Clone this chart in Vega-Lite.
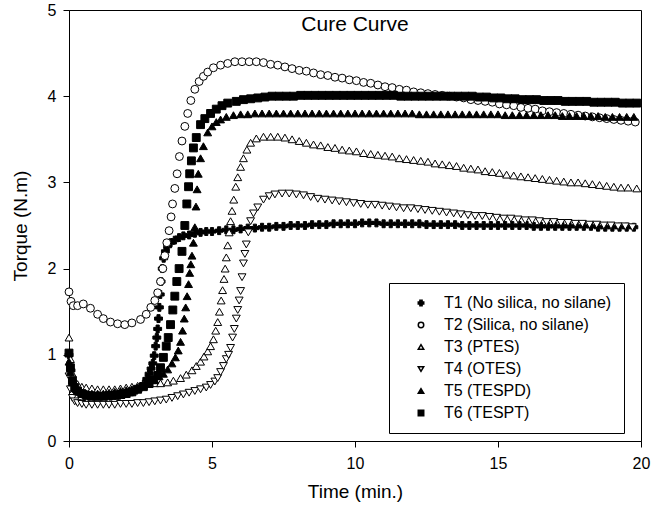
{
"$schema":"https://vega.github.io/schema/vega-lite/v6.json",
"autosize":"none",
"padding":{"left":69,"top":10,"right":22,"bottom":72},
"width":572,"height":431,
"config":{"font":"Liberation Sans","view":{"stroke":"black","strokeWidth":1},
"axis":{"grid":false,"domainColor":"black","tickColor":"black","tickSize":6,"labelColor":"black","labelFontSize":16,"titleFontSize":19,"titleFontWeight":"normal","titleColor":"black","labelFont":"Liberation Sans","titleFont":"Liberation Sans"}},
"title":{"text":"Cure Curve","fontSize":21,"fontWeight":"normal","color":"black","font":"Liberation Sans","offset":-33,"anchor":"middle"},
"datasets":{
"names":[{"s":"T1","name":"T1 (No silica, no silane)"},{"s":"T2","name":"T2 (Silica, no silane)"},{"s":"T3","name":"T3 (PTES)"},{"s":"T4","name":"T4 (OTES)"},{"s":"T5","name":"T5 (TESPD)"},{"s":"T6","name":"T6 (TESPT)"}],
"curves":[
{"s":"T1","t":0,"v":1.0},{"s":"T1","t":0.07,"v":0.82},{"s":"T1","t":0.15,"v":0.66},{"s":"T1","t":0.25,"v":0.58},{"s":"T1","t":0.4,"v":0.55},{"s":"T1","t":0.55,"v":0.53},{"s":"T1","t":0.7,"v":0.52},{"s":"T1","t":0.85,"v":0.52},{"s":"T1","t":1.0,"v":0.52},{"s":"T1","t":1.15,"v":0.52},{"s":"T1","t":1.3,"v":0.52},{"s":"T1","t":1.45,"v":0.52},{"s":"T1","t":1.6,"v":0.53},{"s":"T1","t":1.75,"v":0.53},{"s":"T1","t":1.9,"v":0.54},{"s":"T1","t":2.05,"v":0.55},{"s":"T1","t":2.2,"v":0.57},{"s":"T1","t":2.35,"v":0.59},{"s":"T1","t":2.5,"v":0.62},{"s":"T1","t":2.62,"v":0.66},{"s":"T1","t":2.72,"v":0.72},{"s":"T1","t":2.8,"v":0.78},{"s":"T1","t":2.87,"v":0.84},{"s":"T1","t":2.93,"v":0.9},{"s":"T1","t":2.98,"v":0.99},{"s":"T1","t":3.03,"v":1.1},{"s":"T1","t":3.07,"v":1.2},{"s":"T1","t":3.1,"v":1.3},{"s":"T1","t":3.13,"v":1.42},{"s":"T1","t":3.16,"v":1.55},{"s":"T1","t":3.19,"v":1.7},{"s":"T1","t":3.22,"v":1.85},{"s":"T1","t":3.26,"v":2.0},{"s":"T1","t":3.31,"v":2.12},{"s":"T1","t":3.37,"v":2.2},{"s":"T1","t":3.45,"v":2.26},{"s":"T1","t":3.55,"v":2.3},{"s":"T1","t":3.7,"v":2.33},{"s":"T1","t":3.85,"v":2.36},{"s":"T1","t":4.0,"v":2.38},{"s":"T1","t":4.2,"v":2.39},{"s":"T1","t":4.4,"v":2.41},{"s":"T1","t":4.6,"v":2.42},{"s":"T1","t":4.8,"v":2.43},{"s":"T1","t":5.0,"v":2.43},{"s":"T1","t":5.25,"v":2.44},{"s":"T1","t":5.5,"v":2.45},{"s":"T1","t":5.75,"v":2.45},{"s":"T1","t":6.0,"v":2.46},{"s":"T1","t":6.25,"v":2.47},{"s":"T1","t":6.5,"v":2.47},{"s":"T1","t":6.75,"v":2.48},{"s":"T1","t":7.0,"v":2.48},{"s":"T1","t":7.25,"v":2.49},{"s":"T1","t":7.5,"v":2.49},{"s":"T1","t":7.75,"v":2.5},{"s":"T1","t":8.0,"v":2.5},{"s":"T1","t":8.25,"v":2.5},{"s":"T1","t":8.5,"v":2.51},{"s":"T1","t":8.75,"v":2.51},{"s":"T1","t":9.0,"v":2.51},{"s":"T1","t":9.25,"v":2.52},{"s":"T1","t":9.5,"v":2.52},{"s":"T1","t":9.75,"v":2.52},{"s":"T1","t":10.0,"v":2.52},{"s":"T1","t":10.25,"v":2.53},{"s":"T1","t":10.5,"v":2.53},{"s":"T1","t":10.75,"v":2.53},{"s":"T1","t":11.0,"v":2.52},{"s":"T1","t":11.25,"v":2.52},{"s":"T1","t":11.5,"v":2.52},{"s":"T1","t":11.75,"v":2.52},{"s":"T1","t":12.0,"v":2.52},{"s":"T1","t":12.25,"v":2.52},{"s":"T1","t":12.5,"v":2.51},{"s":"T1","t":12.75,"v":2.51},{"s":"T1","t":13.0,"v":2.51},{"s":"T1","t":13.25,"v":2.51},{"s":"T1","t":13.5,"v":2.51},{"s":"T1","t":13.75,"v":2.5},{"s":"T1","t":14.0,"v":2.5},{"s":"T1","t":14.25,"v":2.5},{"s":"T1","t":14.5,"v":2.5},{"s":"T1","t":14.75,"v":2.5},{"s":"T1","t":15.0,"v":2.5},{"s":"T1","t":15.25,"v":2.5},{"s":"T1","t":15.5,"v":2.5},{"s":"T1","t":15.75,"v":2.5},{"s":"T1","t":16.0,"v":2.5},{"s":"T1","t":16.25,"v":2.49},{"s":"T1","t":16.5,"v":2.49},{"s":"T1","t":16.75,"v":2.49},{"s":"T1","t":17.0,"v":2.49},{"s":"T1","t":17.25,"v":2.49},{"s":"T1","t":17.5,"v":2.49},{"s":"T1","t":17.75,"v":2.49},{"s":"T1","t":18.0,"v":2.49},{"s":"T1","t":18.25,"v":2.49},{"s":"T1","t":18.5,"v":2.48},{"s":"T1","t":18.75,"v":2.48},{"s":"T1","t":19.0,"v":2.48},{"s":"T1","t":19.25,"v":2.48},{"s":"T1","t":19.5,"v":2.48},{"s":"T1","t":19.75,"v":2.48},
{"s":"T2","t":0,"v":1.73},{"s":"T2","t":0.07,"v":1.62},{"s":"T2","t":0.15,"v":1.57},{"s":"T2","t":0.3,"v":1.57},{"s":"T2","t":0.5,"v":1.59},{"s":"T2","t":0.75,"v":1.54},{"s":"T2","t":1.0,"v":1.47},{"s":"T2","t":1.2,"v":1.42},{"s":"T2","t":1.45,"v":1.38},{"s":"T2","t":1.7,"v":1.36},{"s":"T2","t":1.95,"v":1.35},{"s":"T2","t":2.2,"v":1.37},{"s":"T2","t":2.5,"v":1.41},{"s":"T2","t":2.7,"v":1.47},{"s":"T2","t":2.86,"v":1.55},{"s":"T2","t":3.0,"v":1.63},{"s":"T2","t":3.1,"v":1.72},{"s":"T2","t":3.2,"v":1.85},{"s":"T2","t":3.28,"v":2.0},{"s":"T2","t":3.35,"v":2.15},{"s":"T2","t":3.42,"v":2.3},{"s":"T2","t":3.5,"v":2.44},{"s":"T2","t":3.57,"v":2.6},{"s":"T2","t":3.62,"v":2.75},{"s":"T2","t":3.7,"v":2.93},{"s":"T2","t":3.78,"v":3.1},{"s":"T2","t":3.86,"v":3.3},{"s":"T2","t":3.95,"v":3.48},{"s":"T2","t":4.05,"v":3.65},{"s":"T2","t":4.15,"v":3.8},{"s":"T2","t":4.26,"v":3.95},{"s":"T2","t":4.4,"v":4.08},{"s":"T2","t":4.55,"v":4.17},{"s":"T2","t":4.7,"v":4.23},{"s":"T2","t":4.85,"v":4.28},{"s":"T2","t":5.05,"v":4.33},{"s":"T2","t":5.3,"v":4.36},{"s":"T2","t":5.55,"v":4.38},{"s":"T2","t":5.8,"v":4.4},{"s":"T2","t":6.05,"v":4.4},{"s":"T2","t":6.3,"v":4.4},{"s":"T2","t":6.55,"v":4.4},{"s":"T2","t":6.8,"v":4.39},{"s":"T2","t":7.05,"v":4.37},{"s":"T2","t":7.3,"v":4.36},{"s":"T2","t":7.55,"v":4.34},{"s":"T2","t":7.8,"v":4.32},{"s":"T2","t":8.05,"v":4.3},{"s":"T2","t":8.3,"v":4.29},{"s":"T2","t":8.55,"v":4.27},{"s":"T2","t":8.8,"v":4.25},{"s":"T2","t":9.05,"v":4.24},{"s":"T2","t":9.3,"v":4.22},{"s":"T2","t":9.55,"v":4.21},{"s":"T2","t":9.8,"v":4.19},{"s":"T2","t":10.05,"v":4.18},{"s":"T2","t":10.3,"v":4.16},{"s":"T2","t":10.55,"v":4.15},{"s":"T2","t":10.8,"v":4.13},{"s":"T2","t":11.05,"v":4.11},{"s":"T2","t":11.3,"v":4.1},{"s":"T2","t":11.55,"v":4.08},{"s":"T2","t":11.8,"v":4.07},{"s":"T2","t":12.05,"v":4.05},{"s":"T2","t":12.3,"v":4.04},{"s":"T2","t":12.55,"v":4.03},{"s":"T2","t":12.8,"v":4.02},{"s":"T2","t":13.05,"v":4.01},{"s":"T2","t":13.3,"v":4.0},{"s":"T2","t":13.55,"v":3.99},{"s":"T2","t":13.8,"v":3.98},{"s":"T2","t":14.05,"v":3.96},{"s":"T2","t":14.3,"v":3.95},{"s":"T2","t":14.55,"v":3.94},{"s":"T2","t":14.8,"v":3.93},{"s":"T2","t":15.05,"v":3.91},{"s":"T2","t":15.3,"v":3.9},{"s":"T2","t":15.55,"v":3.89},{"s":"T2","t":15.8,"v":3.87},{"s":"T2","t":16.05,"v":3.86},{"s":"T2","t":16.3,"v":3.85},{"s":"T2","t":16.55,"v":3.83},{"s":"T2","t":16.8,"v":3.82},{"s":"T2","t":17.05,"v":3.81},{"s":"T2","t":17.3,"v":3.8},{"s":"T2","t":17.55,"v":3.79},{"s":"T2","t":17.8,"v":3.78},{"s":"T2","t":18.05,"v":3.77},{"s":"T2","t":18.3,"v":3.76},{"s":"T2","t":18.55,"v":3.75},{"s":"T2","t":18.8,"v":3.74},{"s":"T2","t":19.05,"v":3.73},{"s":"T2","t":19.3,"v":3.72},{"s":"T2","t":19.55,"v":3.71},{"s":"T2","t":19.8,"v":3.7},
{"s":"T3","t":0,"v":1.2},{"s":"T3","t":0.05,"v":0.95},{"s":"T3","t":0.12,"v":0.78},{"s":"T3","t":0.2,"v":0.7},{"s":"T3","t":0.3,"v":0.66},{"s":"T3","t":0.45,"v":0.63},{"s":"T3","t":0.6,"v":0.62},{"s":"T3","t":0.8,"v":0.61},{"s":"T3","t":1.0,"v":0.6},{"s":"T3","t":1.2,"v":0.6},{"s":"T3","t":1.4,"v":0.6},{"s":"T3","t":1.6,"v":0.6},{"s":"T3","t":1.8,"v":0.61},{"s":"T3","t":2.0,"v":0.62},{"s":"T3","t":2.2,"v":0.63},{"s":"T3","t":2.4,"v":0.64},{"s":"T3","t":2.6,"v":0.65},{"s":"T3","t":2.8,"v":0.66},{"s":"T3","t":3.0,"v":0.67},{"s":"T3","t":3.2,"v":0.67},{"s":"T3","t":3.45,"v":0.68},{"s":"T3","t":3.65,"v":0.7},{"s":"T3","t":3.9,"v":0.73},{"s":"T3","t":4.1,"v":0.77},{"s":"T3","t":4.3,"v":0.82},{"s":"T3","t":4.45,"v":0.87},{"s":"T3","t":4.6,"v":0.92},{"s":"T3","t":4.72,"v":0.98},{"s":"T3","t":4.85,"v":1.04},{"s":"T3","t":4.95,"v":1.1},{"s":"T3","t":5.05,"v":1.18},{"s":"T3","t":5.13,"v":1.28},{"s":"T3","t":5.2,"v":1.38},{"s":"T3","t":5.26,"v":1.5},{"s":"T3","t":5.32,"v":1.63},{"s":"T3","t":5.37,"v":1.75},{"s":"T3","t":5.42,"v":1.88},{"s":"T3","t":5.46,"v":2.0},{"s":"T3","t":5.5,"v":2.13},{"s":"T3","t":5.55,"v":2.27},{"s":"T3","t":5.6,"v":2.42},{"s":"T3","t":5.65,"v":2.55},{"s":"T3","t":5.7,"v":2.67},{"s":"T3","t":5.76,"v":2.8},{"s":"T3","t":5.83,"v":2.95},{"s":"T3","t":5.9,"v":3.06},{"s":"T3","t":6.0,"v":3.18},{"s":"T3","t":6.1,"v":3.28},{"s":"T3","t":6.22,"v":3.38},{"s":"T3","t":6.35,"v":3.46},{"s":"T3","t":6.55,"v":3.51},{"s":"T3","t":6.8,"v":3.53},{"s":"T3","t":7.05,"v":3.53},{"s":"T3","t":7.3,"v":3.53},{"s":"T3","t":7.55,"v":3.52},{"s":"T3","t":7.8,"v":3.5},{"s":"T3","t":8.05,"v":3.48},{"s":"T3","t":8.3,"v":3.46},{"s":"T3","t":8.55,"v":3.44},{"s":"T3","t":8.8,"v":3.43},{"s":"T3","t":9.05,"v":3.41},{"s":"T3","t":9.3,"v":3.4},{"s":"T3","t":9.55,"v":3.38},{"s":"T3","t":9.8,"v":3.37},{"s":"T3","t":10.05,"v":3.36},{"s":"T3","t":10.3,"v":3.34},{"s":"T3","t":10.55,"v":3.33},{"s":"T3","t":10.8,"v":3.32},{"s":"T3","t":11.05,"v":3.31},{"s":"T3","t":11.3,"v":3.3},{"s":"T3","t":11.55,"v":3.28},{"s":"T3","t":11.8,"v":3.27},{"s":"T3","t":12.05,"v":3.26},{"s":"T3","t":12.3,"v":3.25},{"s":"T3","t":12.55,"v":3.24},{"s":"T3","t":12.8,"v":3.22},{"s":"T3","t":13.05,"v":3.21},{"s":"T3","t":13.3,"v":3.2},{"s":"T3","t":13.55,"v":3.19},{"s":"T3","t":13.8,"v":3.17},{"s":"T3","t":14.05,"v":3.16},{"s":"T3","t":14.3,"v":3.15},{"s":"T3","t":14.55,"v":3.13},{"s":"T3","t":14.8,"v":3.12},{"s":"T3","t":15.05,"v":3.11},{"s":"T3","t":15.3,"v":3.09},{"s":"T3","t":15.55,"v":3.08},{"s":"T3","t":15.8,"v":3.07},{"s":"T3","t":16.05,"v":3.06},{"s":"T3","t":16.3,"v":3.05},{"s":"T3","t":16.55,"v":3.04},{"s":"T3","t":16.8,"v":3.03},{"s":"T3","t":17.05,"v":3.02},{"s":"T3","t":17.3,"v":3.01},{"s":"T3","t":17.55,"v":3.0},{"s":"T3","t":17.8,"v":3.0},{"s":"T3","t":18.05,"v":2.99},{"s":"T3","t":18.3,"v":2.98},{"s":"T3","t":18.55,"v":2.97},{"s":"T3","t":18.8,"v":2.96},{"s":"T3","t":19.05,"v":2.95},{"s":"T3","t":19.3,"v":2.94},{"s":"T3","t":19.55,"v":2.94},{"s":"T3","t":19.85,"v":2.93},
{"s":"T4","t":0,"v":0.75},{"s":"T4","t":0.05,"v":0.6},{"s":"T4","t":0.12,"v":0.5},{"s":"T4","t":0.2,"v":0.46},{"s":"T4","t":0.3,"v":0.44},{"s":"T4","t":0.45,"v":0.43},{"s":"T4","t":0.6,"v":0.42},{"s":"T4","t":0.8,"v":0.42},{"s":"T4","t":1.0,"v":0.42},{"s":"T4","t":1.2,"v":0.42},{"s":"T4","t":1.4,"v":0.42},{"s":"T4","t":1.6,"v":0.42},{"s":"T4","t":1.8,"v":0.43},{"s":"T4","t":2.0,"v":0.43},{"s":"T4","t":2.2,"v":0.43},{"s":"T4","t":2.4,"v":0.44},{"s":"T4","t":2.6,"v":0.44},{"s":"T4","t":2.8,"v":0.45},{"s":"T4","t":3.0,"v":0.46},{"s":"T4","t":3.2,"v":0.47},{"s":"T4","t":3.4,"v":0.48},{"s":"T4","t":3.6,"v":0.5},{"s":"T4","t":3.8,"v":0.52},{"s":"T4","t":4.0,"v":0.54},{"s":"T4","t":4.2,"v":0.56},{"s":"T4","t":4.4,"v":0.58},{"s":"T4","t":4.6,"v":0.6},{"s":"T4","t":4.8,"v":0.62},{"s":"T4","t":4.95,"v":0.65},{"s":"T4","t":5.1,"v":0.69},{"s":"T4","t":5.2,"v":0.73},{"s":"T4","t":5.3,"v":0.8},{"s":"T4","t":5.4,"v":0.87},{"s":"T4","t":5.5,"v":0.95},{"s":"T4","t":5.58,"v":1.0},{"s":"T4","t":5.65,"v":1.08},{"s":"T4","t":5.72,"v":1.2},{"s":"T4","t":5.78,"v":1.3},{"s":"T4","t":5.85,"v":1.42},{"s":"T4","t":5.9,"v":1.52},{"s":"T4","t":5.95,"v":1.63},{"s":"T4","t":6.0,"v":1.74},{"s":"T4","t":6.05,"v":1.9},{"s":"T4","t":6.1,"v":2.06},{"s":"T4","t":6.15,"v":2.17},{"s":"T4","t":6.2,"v":2.28},{"s":"T4","t":6.27,"v":2.42},{"s":"T4","t":6.35,"v":2.55},{"s":"T4","t":6.45,"v":2.64},{"s":"T4","t":6.6,"v":2.71},{"s":"T4","t":6.8,"v":2.8},{"s":"T4","t":7.0,"v":2.84},{"s":"T4","t":7.2,"v":2.86},{"s":"T4","t":7.45,"v":2.87},{"s":"T4","t":7.7,"v":2.87},{"s":"T4","t":7.95,"v":2.86},{"s":"T4","t":8.2,"v":2.85},{"s":"T4","t":8.45,"v":2.83},{"s":"T4","t":8.7,"v":2.81},{"s":"T4","t":8.95,"v":2.8},{"s":"T4","t":9.2,"v":2.79},{"s":"T4","t":9.45,"v":2.78},{"s":"T4","t":9.7,"v":2.77},{"s":"T4","t":9.95,"v":2.76},{"s":"T4","t":10.2,"v":2.75},{"s":"T4","t":10.45,"v":2.74},{"s":"T4","t":10.7,"v":2.74},{"s":"T4","t":10.95,"v":2.73},{"s":"T4","t":11.2,"v":2.72},{"s":"T4","t":11.45,"v":2.71},{"s":"T4","t":11.7,"v":2.7},{"s":"T4","t":11.95,"v":2.7},{"s":"T4","t":12.2,"v":2.69},{"s":"T4","t":12.45,"v":2.68},{"s":"T4","t":12.7,"v":2.67},{"s":"T4","t":12.95,"v":2.66},{"s":"T4","t":13.2,"v":2.65},{"s":"T4","t":13.45,"v":2.64},{"s":"T4","t":13.7,"v":2.63},{"s":"T4","t":13.95,"v":2.62},{"s":"T4","t":14.2,"v":2.61},{"s":"T4","t":14.45,"v":2.61},{"s":"T4","t":14.7,"v":2.6},{"s":"T4","t":14.95,"v":2.59},{"s":"T4","t":15.2,"v":2.58},{"s":"T4","t":15.45,"v":2.58},{"s":"T4","t":15.7,"v":2.57},{"s":"T4","t":15.95,"v":2.56},{"s":"T4","t":16.2,"v":2.56},{"s":"T4","t":16.45,"v":2.55},{"s":"T4","t":16.7,"v":2.54},{"s":"T4","t":16.95,"v":2.54},{"s":"T4","t":17.2,"v":2.53},{"s":"T4","t":17.45,"v":2.53},{"s":"T4","t":17.7,"v":2.52},{"s":"T4","t":17.95,"v":2.52},{"s":"T4","t":18.2,"v":2.51},{"s":"T4","t":18.45,"v":2.51},{"s":"T4","t":18.7,"v":2.5},{"s":"T4","t":18.95,"v":2.5},{"s":"T4","t":19.2,"v":2.49},{"s":"T4","t":19.45,"v":2.49},{"s":"T4","t":19.7,"v":2.48},
{"s":"T5","t":0,"v":0.92},{"s":"T5","t":0.05,"v":0.8},{"s":"T5","t":0.12,"v":0.68},{"s":"T5","t":0.2,"v":0.62},{"s":"T5","t":0.3,"v":0.58},{"s":"T5","t":0.45,"v":0.56},{"s":"T5","t":0.6,"v":0.55},{"s":"T5","t":0.8,"v":0.55},{"s":"T5","t":1.0,"v":0.55},{"s":"T5","t":1.2,"v":0.55},{"s":"T5","t":1.4,"v":0.56},{"s":"T5","t":1.6,"v":0.57},{"s":"T5","t":1.8,"v":0.58},{"s":"T5","t":2.0,"v":0.59},{"s":"T5","t":2.2,"v":0.6},{"s":"T5","t":2.4,"v":0.62},{"s":"T5","t":2.6,"v":0.64},{"s":"T5","t":2.8,"v":0.67},{"s":"T5","t":3.0,"v":0.71},{"s":"T5","t":3.15,"v":0.75},{"s":"T5","t":3.3,"v":0.78},{"s":"T5","t":3.45,"v":0.83},{"s":"T5","t":3.6,"v":0.9},{"s":"T5","t":3.72,"v":0.97},{"s":"T5","t":3.82,"v":1.05},{"s":"T5","t":3.9,"v":1.15},{"s":"T5","t":3.97,"v":1.28},{"s":"T5","t":4.03,"v":1.42},{"s":"T5","t":4.08,"v":1.55},{"s":"T5","t":4.13,"v":1.68},{"s":"T5","t":4.18,"v":1.82},{"s":"T5","t":4.22,"v":1.95},{"s":"T5","t":4.26,"v":2.05},{"s":"T5","t":4.3,"v":2.15},{"s":"T5","t":4.35,"v":2.3},{"s":"T5","t":4.4,"v":2.48},{"s":"T5","t":4.44,"v":2.72},{"s":"T5","t":4.48,"v":2.92},{"s":"T5","t":4.52,"v":3.1},{"s":"T5","t":4.6,"v":3.28},{"s":"T5","t":4.7,"v":3.42},{"s":"T5","t":4.85,"v":3.58},{"s":"T5","t":5.0,"v":3.65},{"s":"T5","t":5.15,"v":3.7},{"s":"T5","t":5.3,"v":3.73},{"s":"T5","t":5.5,"v":3.76},{"s":"T5","t":5.75,"v":3.78},{"s":"T5","t":6.0,"v":3.79},{"s":"T5","t":6.25,"v":3.79},{"s":"T5","t":6.5,"v":3.8},{"s":"T5","t":6.75,"v":3.8},{"s":"T5","t":7.0,"v":3.8},{"s":"T5","t":7.25,"v":3.8},{"s":"T5","t":7.5,"v":3.8},{"s":"T5","t":7.75,"v":3.8},{"s":"T5","t":8.0,"v":3.8},{"s":"T5","t":8.25,"v":3.8},{"s":"T5","t":8.5,"v":3.8},{"s":"T5","t":8.75,"v":3.8},{"s":"T5","t":9.0,"v":3.8},{"s":"T5","t":9.25,"v":3.8},{"s":"T5","t":9.5,"v":3.8},{"s":"T5","t":9.75,"v":3.8},{"s":"T5","t":10.0,"v":3.8},{"s":"T5","t":10.25,"v":3.8},{"s":"T5","t":10.5,"v":3.8},{"s":"T5","t":10.75,"v":3.8},{"s":"T5","t":11.0,"v":3.8},{"s":"T5","t":11.25,"v":3.8},{"s":"T5","t":11.5,"v":3.8},{"s":"T5","t":11.75,"v":3.8},{"s":"T5","t":12.0,"v":3.8},{"s":"T5","t":12.25,"v":3.79},{"s":"T5","t":12.5,"v":3.79},{"s":"T5","t":12.75,"v":3.79},{"s":"T5","t":13.0,"v":3.79},{"s":"T5","t":13.25,"v":3.79},{"s":"T5","t":13.5,"v":3.79},{"s":"T5","t":13.75,"v":3.79},{"s":"T5","t":14.0,"v":3.79},{"s":"T5","t":14.25,"v":3.79},{"s":"T5","t":14.5,"v":3.79},{"s":"T5","t":14.75,"v":3.79},{"s":"T5","t":15.0,"v":3.79},{"s":"T5","t":15.25,"v":3.78},{"s":"T5","t":15.5,"v":3.78},{"s":"T5","t":15.75,"v":3.78},{"s":"T5","t":16.0,"v":3.78},{"s":"T5","t":16.25,"v":3.78},{"s":"T5","t":16.5,"v":3.78},{"s":"T5","t":16.75,"v":3.78},{"s":"T5","t":17.0,"v":3.78},{"s":"T5","t":17.25,"v":3.77},{"s":"T5","t":17.5,"v":3.77},{"s":"T5","t":17.75,"v":3.77},{"s":"T5","t":18.0,"v":3.77},{"s":"T5","t":18.25,"v":3.77},{"s":"T5","t":18.5,"v":3.77},{"s":"T5","t":18.75,"v":3.76},{"s":"T5","t":19.0,"v":3.76},{"s":"T5","t":19.25,"v":3.76},{"s":"T5","t":19.5,"v":3.76},{"s":"T5","t":19.75,"v":3.76},
{"s":"T6","t":0,"v":1.02},{"s":"T6","t":0.05,"v":0.85},{"s":"T6","t":0.12,"v":0.7},{"s":"T6","t":0.2,"v":0.62},{"s":"T6","t":0.3,"v":0.58},{"s":"T6","t":0.45,"v":0.55},{"s":"T6","t":0.6,"v":0.53},{"s":"T6","t":0.8,"v":0.52},{"s":"T6","t":1.0,"v":0.52},{"s":"T6","t":1.2,"v":0.52},{"s":"T6","t":1.4,"v":0.53},{"s":"T6","t":1.6,"v":0.53},{"s":"T6","t":1.8,"v":0.54},{"s":"T6","t":2.0,"v":0.55},{"s":"T6","t":2.2,"v":0.57},{"s":"T6","t":2.4,"v":0.6},{"s":"T6","t":2.6,"v":0.63},{"s":"T6","t":2.8,"v":0.67},{"s":"T6","t":2.95,"v":0.71},{"s":"T6","t":3.1,"v":0.76},{"s":"T6","t":3.2,"v":0.85},{"s":"T6","t":3.3,"v":0.97},{"s":"T6","t":3.4,"v":1.1},{"s":"T6","t":3.47,"v":1.2},{"s":"T6","t":3.55,"v":1.35},{"s":"T6","t":3.63,"v":1.52},{"s":"T6","t":3.7,"v":1.68},{"s":"T6","t":3.77,"v":1.85},{"s":"T6","t":3.85,"v":2.0},{"s":"T6","t":3.95,"v":2.2},{"s":"T6","t":4.05,"v":2.5},{"s":"T6","t":4.12,"v":2.75},{"s":"T6","t":4.18,"v":2.95},{"s":"T6","t":4.22,"v":3.1},{"s":"T6","t":4.28,"v":3.25},{"s":"T6","t":4.35,"v":3.4},{"s":"T6","t":4.45,"v":3.52},{"s":"T6","t":4.6,"v":3.67},{"s":"T6","t":4.75,"v":3.74},{"s":"T6","t":4.95,"v":3.8},{"s":"T6","t":5.15,"v":3.85},{"s":"T6","t":5.35,"v":3.89},{"s":"T6","t":5.55,"v":3.92},{"s":"T6","t":5.85,"v":3.94},{"s":"T6","t":6.1,"v":3.96},{"s":"T6","t":6.35,"v":3.97},{"s":"T6","t":6.6,"v":3.98},{"s":"T6","t":6.85,"v":3.99},{"s":"T6","t":7.1,"v":4.0},{"s":"T6","t":7.35,"v":4.0},{"s":"T6","t":7.6,"v":4.0},{"s":"T6","t":7.85,"v":4.0},{"s":"T6","t":8.1,"v":4.01},{"s":"T6","t":8.35,"v":4.01},{"s":"T6","t":8.6,"v":4.01},{"s":"T6","t":8.85,"v":4.01},{"s":"T6","t":9.1,"v":4.01},{"s":"T6","t":9.35,"v":4.01},{"s":"T6","t":9.6,"v":4.01},{"s":"T6","t":9.85,"v":4.01},{"s":"T6","t":10.1,"v":4.01},{"s":"T6","t":10.35,"v":4.01},{"s":"T6","t":10.6,"v":4.01},{"s":"T6","t":10.85,"v":4.01},{"s":"T6","t":11.1,"v":4.01},{"s":"T6","t":11.35,"v":4.01},{"s":"T6","t":11.6,"v":4.0},{"s":"T6","t":11.85,"v":4.0},{"s":"T6","t":12.1,"v":4.0},{"s":"T6","t":12.35,"v":4.0},{"s":"T6","t":12.6,"v":4.0},{"s":"T6","t":12.85,"v":4.0},{"s":"T6","t":13.1,"v":4.0},{"s":"T6","t":13.35,"v":4.0},{"s":"T6","t":13.6,"v":4.0},{"s":"T6","t":13.85,"v":4.0},{"s":"T6","t":14.1,"v":4.0},{"s":"T6","t":14.35,"v":3.99},{"s":"T6","t":14.6,"v":3.99},{"s":"T6","t":14.85,"v":3.98},{"s":"T6","t":15.1,"v":3.98},{"s":"T6","t":15.35,"v":3.97},{"s":"T6","t":15.6,"v":3.97},{"s":"T6","t":15.85,"v":3.96},{"s":"T6","t":16.1,"v":3.96},{"s":"T6","t":16.35,"v":3.96},{"s":"T6","t":16.6,"v":3.95},{"s":"T6","t":16.85,"v":3.95},{"s":"T6","t":17.1,"v":3.95},{"s":"T6","t":17.35,"v":3.94},{"s":"T6","t":17.6,"v":3.94},{"s":"T6","t":17.85,"v":3.94},{"s":"T6","t":18.1,"v":3.94},{"s":"T6","t":18.35,"v":3.93},{"s":"T6","t":18.6,"v":3.93},{"s":"T6","t":18.85,"v":3.93},{"s":"T6","t":19.1,"v":3.93},{"s":"T6","t":19.35,"v":3.92},{"s":"T6","t":19.6,"v":3.92},{"s":"T6","t":19.85,"v":3.92}
]},
"data":{"name":"curves"},
"transform":[{"lookup":"s","from":{"data":{"name":"names"},"key":"s","fields":["name"]}}],
"mark":{"type":"point","filled":true,"stroke":"black","strokeWidth":1,"size":62,"opacity":1},
"encoding":{
"x":{"field":"t","type":"quantitative","title":"Time (min.)","scale":{"domain":[0,20],"nice":false},"axis":{"values":[0,5,10,15,20],"labelPadding":8,"titlePadding":11,"labelFlush":false}},
"y":{"field":"v","type":"quantitative","title":"Torque (N.m)","scale":{"domain":[0,5],"nice":false},"axis":{"values":[0,1,2,3,4,5],"labelPadding":7,"titlePadding":17,"labelFlush":false}},
"shape":{"field":"name","type":"nominal","sort":null,"scale":{"domain":["T1 (No silica, no silane)","T2 (Silica, no silane)","T3 (PTES)","T4 (OTES)","T5 (TESPD)","T6 (TESPT)"],"range":["cross","circle","triangle-up","triangle-down","triangle-up","square"]},
"legend":{"title":null,"orient":"none","legendX":320,"legendY":273,"padding":12,"strokeColor":"black","fillColor":"white","labelFontSize":16,"labelColor":"black","labelFont":"Liberation Sans","symbolSize":30,"rowPadding":6,"labelOffset":15,"symbolOffset":12,"labelLimit":300,
"encode":{"symbols":{"update":{"stroke":{"value":"black"},"strokeWidth":{"value":1},"opacity":{"value":1}}}}}},
"fill":{"field":"name","type":"nominal","sort":null,"scale":{"domain":["T1 (No silica, no silane)","T2 (Silica, no silane)","T3 (PTES)","T4 (OTES)","T5 (TESPD)","T6 (TESPT)"],"range":["black","white","white","white","black","black"]}}
}
}
